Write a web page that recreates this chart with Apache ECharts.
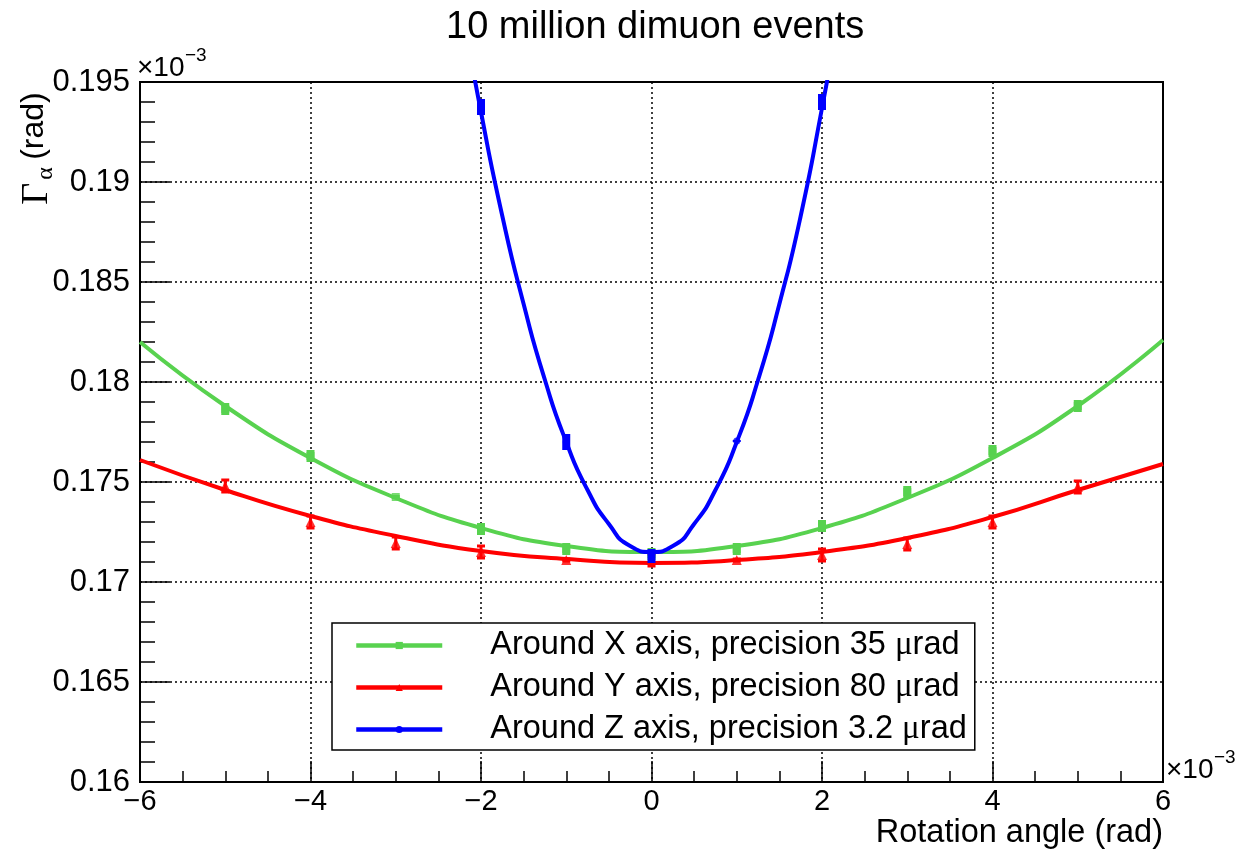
<!DOCTYPE html>
<html>
<head>
<meta charset="utf-8">
<script src="https://cdn.jsdelivr.net/npm/echarts@6/dist/echarts.min.js"></script>
<style>html,body{margin:0;padding:0;background:#fff;}#c{width:1247px;height:853px;}</style>
</head>
<body>
<div id="c"></div>
<script>
// ---- data (y in units of 1e-3 rad, x in units of 1e-3 rad) ----
const title = '10 million dimuon events';
const xTicks = [-6, -4, -2, 0, 2, 4, 6];
const yTicks = [0.16, 0.165, 0.17, 0.175, 0.18, 0.185, 0.19, 0.195];

const ptsX = [-5, -4, -3, -2, -1, 0, 1, 2, 3, 4, 5];
const greenY = [0.17865, 0.1763, 0.17425, 0.17265, 0.17165, 0.1714, 0.17165, 0.1728, 0.1745, 0.17655, 0.1788];
const greenErr = [0.0003, 0.0003, 0.0001, 0.0003, 0.0003, 0.0003, 0.0003, 0.0003, 0.0003, 0.0003, 0.0003];
const redY = [0.1748, 0.1730, 0.17195, 0.1715, 0.1711, 0.1711, 0.1711, 0.17135, 0.1719, 0.1730, 0.17475];
const redErr = [0.0003, 0.0003, 0.0003, 0.0003, 0.00005, 0.0003, 0.00005, 0.0003, 0.0003, 0.0003, 0.0003];
const blueX = [-2, -1, 0, 1, 2];
const blueY = [0.19375, 0.1770, 0.1713, 0.17705, 0.1940];
const blueErr = [0.0004, 0.0004, 0.00035, 0.00005, 0.0004];

// fitted curves
const fitX = [-6, -5, -4, -3, -2, -1, 0, 1, 2, 3, 4, 5, 6];
const greenFit = [0.1820, 0.1788, 0.1762, 0.1742, 0.1727, 0.1718, 0.1715, 0.1718, 0.1727, 0.1742, 0.1762, 0.1788, 0.1821];
const redFit = [0.1761, 0.1746, 0.1733, 0.1723, 0.17155, 0.17115, 0.17095, 0.1711, 0.1715, 0.1722, 0.17325, 0.1746, 0.1759];
const blueFitX = [-2.25, -2, -1.75, -1.5, -1.25, -1, -0.75, -0.5, -0.25, 0, 0.25, 0.5, 0.75, 1, 1.25, 1.5, 1.75, 2, 2.25];
const blueFit = [0.1993, 0.1935, 0.1883, 0.1839, 0.1801, 0.1770, 0.1746, 0.1729, 0.1718, 0.1715, 0.1718, 0.1729, 0.1746, 0.1770, 0.1801, 0.1839, 0.1883, 0.1937, 0.1995];

const names = ['Around X axis, precision 35 \u03bcrad', 'Around Y axis, precision 80 \u03bcrad', 'Around Z axis, precision 3.2 \u03bcrad'];
const GREEN = '#58d24f', RED = '#ff0000', BLUE = '#0000ff';
const FONT = '"Liberation Sans", Arial, Helvetica, sans-serif';
const SERIF = '"Liberation Serif", "Times New Roman", serif';

const zip = (xs, ys) => xs.map((x, i) => [x, ys[i]]);
const zip3 = (xs, ys, es) => xs.map((x, i) => [x, ys[i], es[i]]);

function errRender(color, w, caps) {
  return function (params, api) {
    const x = api.value(0), y = api.value(1), e = api.value(2);
    const top = api.coord([x, y + e]);
    const bot = api.coord([x, y - e]);
    const children = [];
    if (caps) {
      children.push({ type: 'line', shape: { x1: top[0], y1: top[1], x2: bot[0], y2: bot[1] }, style: { stroke: color, lineWidth: 3 } });
      children.push({ type: 'line', shape: { x1: top[0] - 4, y1: top[1], x2: top[0] + 4, y2: top[1] }, style: { stroke: color, lineWidth: 3 } });
      children.push({ type: 'line', shape: { x1: bot[0] - 4, y1: bot[1], x2: bot[0] + 4, y2: bot[1] }, style: { stroke: color, lineWidth: 3 } });
    } else {
      children.push({ type: 'rect', shape: { x: top[0] - w / 2, y: top[1], width: w, height: Math.max(bot[1] - top[1], 1) }, style: { fill: color } });
    }
    return { type: 'group', children };
  };
}

function smallTitle(text, left, top, size) {
  return { text: text, left: left, top: top, padding: 0, itemGap: 0,
    textStyle: { fontFamily: FONT, fontSize: size, lineHeight: size, fontWeight: 'normal', color: '#000' } };
}

const chart = echarts.init(document.getElementById('c'), null, { renderer: 'canvas' });
const option = {
  animation: false,
  backgroundColor: '#fff',
  title: [
    { text: title, left: 441, top: 4,
      textStyle: { fontFamily: FONT, fontSize: 38, fontWeight: 'normal', color: '#000' } },
    smallTitle('\u00d710', 137, 54, 28),
    smallTitle('\u22123', 185, 46, 19),
    smallTitle('\u00d710', 1166, 756, 28),
    smallTitle('\u22123', 1214, 748, 19)
  ],
  grid: { left: 140, right: 84, top: 82, bottom: 71, outerBoundsMode: 'none', containLabel: false,
    show: true, borderColor: '#000', borderWidth: 2, backgroundColor: 'transparent' },
  legend: {
    orient: 'vertical', left: 332, top: 623,
    backgroundColor: '#fff', borderColor: '#000', borderWidth: 1.5,
    padding: [6, 8, 4, 22], itemGap: 9, itemWidth: 86, itemHeight: 9,
    lineStyle: { width: 4.5 },
    data: names,
    formatter: n => { const p = n.split('\u03bc'); return '{p|' + p[0] + '}{m|\u03bc}{t|' + p[1] + '}'; },
    textStyle: { fontFamily: FONT, fontSize: 32.5, color: '#000',
      rich: { p: { fontFamily: FONT, fontSize: 32.5, lineHeight: 34, padding: [0, 0, 0, 43] },
              t: { fontFamily: FONT, fontSize: 32.5, lineHeight: 34 },
              m: { fontFamily: SERIF, fontSize: 33, lineHeight: 34 } } }
  },
  xAxis: {
    type: 'value', min: -6, max: 6, interval: 2,
    axisLine: { show: true, onZero: false, lineStyle: { color: '#000', width: 2 } },
    axisTick: { inside: true, length: 21, lineStyle: { color: '#000', width: 1.5 } },
    minorTick: { show: true, splitNumber: 4, length: 11, lineStyle: { color: '#000', width: 1.5 } },
    splitLine: { show: true, lineStyle: { color: '#000', type: [2, 3], width: 1.5 } },
    axisLabel: { margin: 5, fontFamily: FONT, fontSize: 29, color: '#000', formatter: v => (v < 0 ? '\u2212' + (-v) : String(v)) },
    name: 'Rotation angle (rad)', nameLocation: 'end', nameGap: 0, nameMoveOverlap: false,
    nameTextStyle: { fontFamily: FONT, fontSize: 32.5, color: '#000', align: 'right', verticalAlign: 'top', padding: [35, 0, 0, 0] }
  },
  yAxis: {
    type: 'value', min: 0.16, max: 0.195, interval: 0.005,
    axisLine: { show: true, onZero: false, lineStyle: { color: '#000', width: 2 } },
    axisTick: { inside: true, length: 30, lineStyle: { color: '#000', width: 1.5 } },
    minorTick: { show: true, splitNumber: 5, length: 15, lineStyle: { color: '#000', width: 1.5 } },
    splitLine: { show: true, lineStyle: { color: '#000', type: [2, 3], width: 1.5 } },
    axisLabel: { margin: 10, fontFamily: FONT, fontSize: 31, color: '#000', formatter: v => String(parseFloat(v.toFixed(3))) },
    name: '{g|\u0393}{a|\u03b1} {r|(rad)}', nameLocation: 'middle', nameGap: 82, nameRotate: 90, nameMoveOverlap: false,
    nameTextStyle: { color: '#000', padding: [0, 0, 0, 567],
      rich: { g: { fontFamily: SERIF, fontSize: 38, lineHeight: 40, verticalAlign: 'top' },
              a: { fontFamily: SERIF, fontSize: 24, lineHeight: 24, verticalAlign: 'bottom', padding: [0, 4, 0, 3] },
              r: { fontFamily: FONT, fontSize: 32, lineHeight: 40, verticalAlign: 'top' } } }
  },
  series: [
    { name: names[0], type: 'line', data: zip(fitX, greenFit), smooth: 0.5, showSymbol: false, symbol: 'rect', symbolSize: 8,
      itemStyle: { color: GREEN }, lineStyle: { color: GREEN, width: 4 }, z: 2 },
    { name: names[1], type: 'line', data: zip(fitX, redFit), smooth: 0.5, showSymbol: false, symbol: 'triangle', symbolSize: 6,
      itemStyle: { color: RED }, lineStyle: { color: RED, width: 4 }, z: 2 },
    { name: 'greenErr', type: 'custom', data: zip3(ptsX, greenY, greenErr), renderItem: errRender(GREEN, 8, false), z: 3 },
    { name: 'greenPts', type: 'scatter', data: zip(ptsX, greenY), symbol: 'rect', symbolSize: 8, itemStyle: { color: GREEN }, z: 3 },
    { name: 'redErr', type: 'custom', data: zip3(ptsX, redY, redErr), renderItem: errRender(RED, 3, true), z: 3 },
    { name: 'redPts', type: 'scatter', data: zip(ptsX, redY), symbol: 'triangle', symbolSize: 10, itemStyle: { color: RED }, z: 3 },
    { name: names[2], type: 'line', data: zip(blueFitX, blueFit), smooth: 0.6, showSymbol: false, symbol: 'circle', symbolSize: 7,
      itemStyle: { color: BLUE }, lineStyle: { color: BLUE, width: 4 }, z: 4 },
    { name: 'blueErr', type: 'custom', data: zip3(blueX, blueY, blueErr), renderItem: errRender(BLUE, 8, false), z: 5 },
    { name: 'bluePts', type: 'scatter', data: zip(blueX, blueY), symbol: 'circle', symbolSize: 7, itemStyle: { color: BLUE }, z: 5 }
  ]
};
chart.setOption(option);
</script>
</body>
</html>
